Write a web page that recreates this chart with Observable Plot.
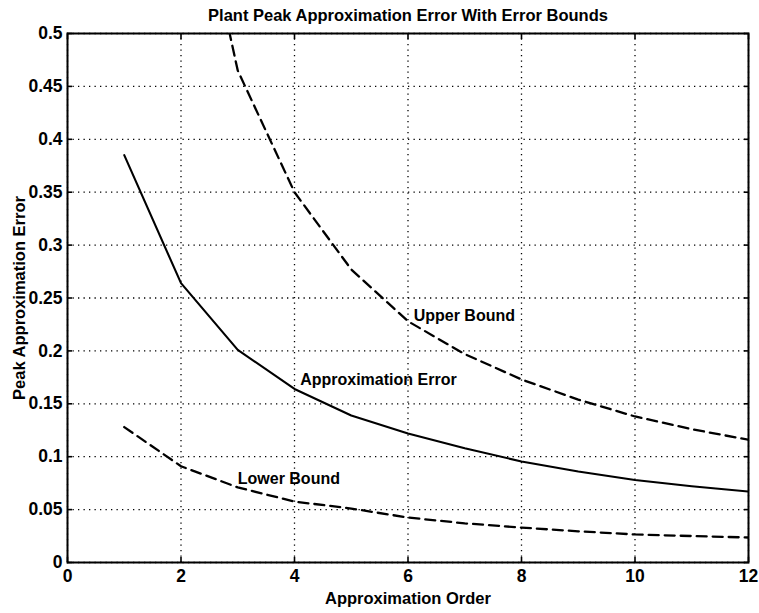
<!DOCTYPE html>
<html><head><meta charset="utf-8">
<script src="https://cdn.jsdelivr.net/npm/d3@7"></script>
<script src="https://cdn.jsdelivr.net/npm/@observablehq/plot@0.6"></script>
<style>body{margin:0;background:#fff}</style>
</head><body><div id="chart"></div>
<script>
const order = [1, 2, 3, 4, 5, 6, 7, 8, 9, 10, 11, 12];
const approxError = [0.385, 0.264, 0.201, 0.164, 0.139, 0.122, 0.108, 0.0955, 0.086, 0.078, 0.072, 0.067];
const upperOrder = [2, 3, 4, 5, 6, 7, 8, 9, 10, 11, 12];
const upperBound = [0.71, 0.465, 0.35, 0.277, 0.228, 0.197, 0.173, 0.154, 0.138, 0.126, 0.116];
const lowerBound = [0.128, 0.091, 0.071, 0.0576, 0.051, 0.0425, 0.037, 0.033, 0.0295, 0.0265, 0.025, 0.0236];
const xTicks = [0, 2, 4, 6, 8, 10, 12];
const yTicks = [0, 0.05, 0.1, 0.15, 0.2, 0.25, 0.3, 0.35, 0.4, 0.45, 0.5];
const yTickLabels = ["0", "0.05", "0.1", "0.15", "0.2", "0.25", "0.3", "0.35", "0.4", "0.45", "0.5"];
const labelText = ["Upper Bound", "Approximation Error", "Lower Bound"];
const labelX = [6.1, 4.1, 3.0];
const labelY = [0.233, 0.173, 0.079];
const titleText = "Plant Peak Approximation Error With Error Bounds";
const xLabel = "Approximation Order";
const yLabel = "Peak Approximation Error";

const approxData = order.map((x, i) => ({x, y: approxError[i]}));
const upperData = upperOrder.map((x, i) => ({x, y: upperBound[i]}));
const lowerData = order.map((x, i) => ({x, y: lowerBound[i]}));
const labels = labelText.map((t, i) => ({t, x: labelX[i], y: labelY[i]}));
const yFmt = (d) => yTickLabels[yTicks.findIndex(v => Math.abs(v - d) < 1e-9)];

const gridStyle = {stroke: "black", strokeOpacity: 1, strokeWidth: 1.3, strokeDasharray: "1.3,4.2"};
const font = "'Liberation Sans', Arial, Helvetica, sans-serif";

const chart = Plot.plot({
  width: 759,
  height: 613,
  marginLeft: 67,
  marginRight: 11,
  marginTop: 33,
  marginBottom: 51,
  style: {fontFamily: font, fontSize: "16px", color: "black", background: "white", overflow: "visible"},
  x: {domain: [0, 12]},
  y: {domain: [0, 0.5]},
  marks: [
    Plot.gridX(xTicks, gridStyle),
    Plot.gridY(yTicks, gridStyle),
    Plot.line(approxData, {x: "x", y: "y", stroke: "black", strokeWidth: 2.1, clip: true}),
    Plot.line(upperData, {x: "x", y: "y", stroke: "black", strokeWidth: 2.3, strokeDasharray: "10,6", clip: true}),
    Plot.line(lowerData, {x: "x", y: "y", stroke: "black", strokeWidth: 2.3, strokeDasharray: "10,6", clip: true}),
    Plot.text(labels, {x: "x", y: "y", text: "t", textAnchor: "start", fontSize: 16, fontWeight: "bold", fill: "black"}),
    Plot.frame({stroke: "black", strokeWidth: 2}),
    Plot.axisX(xTicks, {anchor: "bottom", tickSize: -5, tickPadding: 12, label: null, fontSize: 17.5, fontWeight: "bold", strokeWidth: 1.6}),
    Plot.axisX(xTicks, {anchor: "top", tickSize: -5, tickFormat: () => "", label: null, strokeWidth: 1.6}),
    Plot.axisY(yTicks, {anchor: "left", tickSize: -5, tickPadding: 10, tickFormat: yFmt, label: null, fontSize: 17.5, fontWeight: "bold", strokeWidth: 1.6}),
    Plot.axisY(yTicks, {anchor: "right", tickSize: -5, tickFormat: () => "", label: null, strokeWidth: 1.6}),
    Plot.text([titleText], {frameAnchor: "top", lineAnchor: "middle", textAnchor: "middle", dy: -18, fontSize: 16.5, fontWeight: "bold", fill: "black"}),
    Plot.text([xLabel], {frameAnchor: "bottom", lineAnchor: "middle", textAnchor: "middle", dy: 36, fontSize: 16.5, fontWeight: "bold", fill: "black"}),
    Plot.text([yLabel], {frameAnchor: "left", lineAnchor: "middle", textAnchor: "middle", dx: -48, rotate: -90, fontSize: 16.5, fontWeight: "bold", fill: "black"})
  ]
});
document.getElementById("chart").appendChild(chart);
</script>
</body></html>
